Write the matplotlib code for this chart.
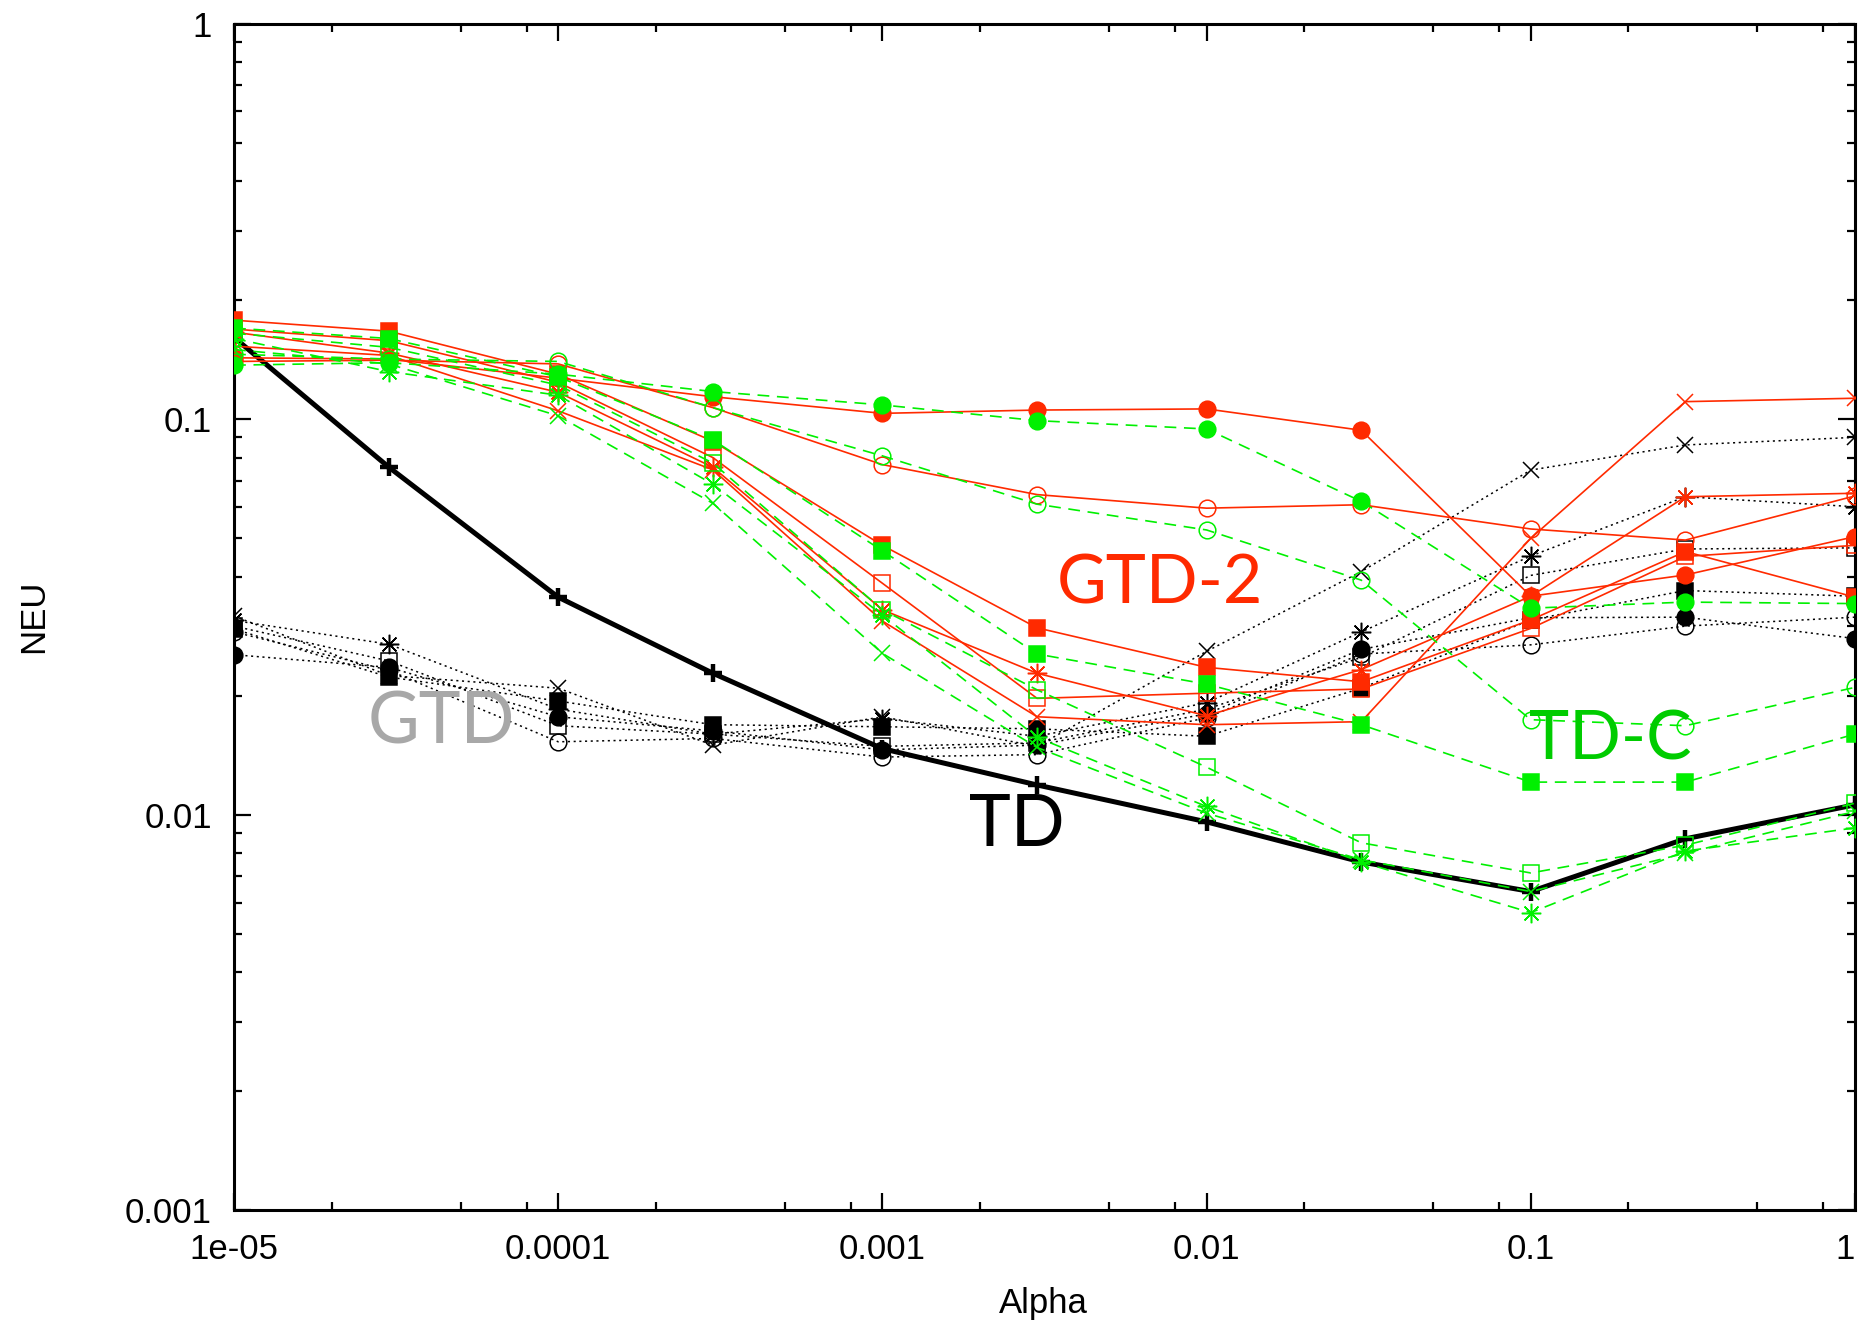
import matplotlib
matplotlib.use('Agg')
import matplotlib.pyplot as plt
from matplotlib.ticker import FixedLocator, FixedFormatter, NullFormatter, LogLocator

# step sizes on the x axis
alpha = [1e-5, 3e-5, 1e-4, 3e-4, 1e-3, 3e-3, 1e-2, 3e-2, 1e-1, 3e-1, 1.0]

# TD (thick black)
td = [0.161, 0.0757, 0.0355, 0.0228, 0.0147, 0.0119, 0.0096, 0.0076, 0.0064, 0.0087, 0.0106]

# GTD (black dotted)
gtd_x = [0.0318, 0.0225, 0.0209, 0.0150, 0.0177, 0.0149, 0.0259, 0.0412, 0.0744, 0.0861, 0.0900]
gtd_star = [0.0310, 0.0270, 0.0185, 0.0160, 0.0175, 0.0158, 0.0192, 0.0290, 0.0451, 0.0637, 0.0601]
gtd_osq = [0.0300, 0.0245, 0.0168, 0.0160, 0.0149, 0.0152, 0.0185, 0.0250, 0.0403, 0.0470, 0.0473]
gtd_fsq = [0.0295, 0.0223, 0.0194, 0.0169, 0.0167, 0.0165, 0.0158, 0.0209, 0.0311, 0.0369, 0.0357]
gtd_ocir = [0.0290, 0.0232, 0.0153, 0.0156, 0.0140, 0.0142, 0.0176, 0.0255, 0.0269, 0.0300, 0.0316]
gtd_fcir = [0.0254, 0.0236, 0.0177, 0.0163, 0.0146, 0.0150, 0.0180, 0.0262, 0.0315, 0.0316, 0.0279]

# GTD-2 (red solid)
gtd2_x = [0.153, 0.145, 0.105, 0.0745, 0.0309, 0.0177, 0.0169, 0.0172, 0.0500, 0.1108, 0.1130]
gtd2_star = [0.166, 0.147, 0.117, 0.0756, 0.0330, 0.0228, 0.0178, 0.0233, 0.0357, 0.0637, 0.0650]
gtd2_osq = [0.169, 0.158, 0.124, 0.0800, 0.0385, 0.0197, 0.0203, 0.0208, 0.0296, 0.0450, 0.0480]
gtd2_fsq = [0.178, 0.167, 0.130, 0.0880, 0.0480, 0.0297, 0.0236, 0.0217, 0.0311, 0.0463, 0.0355]
gtd2_ocir = [0.140, 0.141, 0.138, 0.107, 0.0768, 0.0645, 0.0596, 0.0608, 0.0528, 0.0495, 0.0640]
gtd2_fcir = [0.143, 0.142, 0.127, 0.114, 0.1035, 0.1055, 0.1062, 0.0938, 0.0357, 0.0404, 0.0505]

# TD-C (green dashed)
tdc_x = [0.150, 0.138, 0.102, 0.0613, 0.0256, 0.0148, 0.0101, 0.0077, 0.0064, 0.0080, 0.0102]
tdc_star = [0.160, 0.132, 0.115, 0.0685, 0.0320, 0.0157, 0.0105, 0.0076, 0.00566, 0.0081, 0.00927]
tdc_osq = [0.165, 0.152, 0.122, 0.0775, 0.0330, 0.0207, 0.0132, 0.0085, 0.00713, 0.00838, 0.0107]
tdc_fsq = [0.170, 0.160, 0.128, 0.0887, 0.0465, 0.0255, 0.0214, 0.0169, 0.0121, 0.0121, 0.0160]
tdc_ocir = [0.146, 0.142, 0.140, 0.107, 0.0808, 0.0610, 0.0525, 0.0392, 0.0174, 0.0168, 0.0210]
tdc_fcir = [0.137, 0.139, 0.130, 0.1175, 0.1087, 0.0992, 0.0945, 0.0620, 0.0333, 0.0345, 0.0342]

x_ticks = [1e-5, 1e-4, 1e-3, 1e-2, 1e-1, 1.0]
x_tick_labels = ['1e-05', '0.0001', '0.001', '0.01', '0.1', '1']
y_ticks = [1e-3, 1e-2, 1e-1, 1.0]
y_tick_labels = ['0.001', '0.01', '0.1', '1']

RED = '#ff2a00'
GREEN = '#00f000'
ASTER = (8, 2, 0)
MARKERS = [('x', False), (ASTER, False), ('s', False), ('s', True), ('o', False), ('o', True)]

plt.rcParams['lines.scale_dashes'] = False
tick_font = ['Liberation Sans', 'DejaVu Sans']
label_font = ['Lato', 'DejaVu Sans']

fig = plt.figure(figsize=(18.59, 13.29), dpi=100)
ax = fig.add_axes([0.1259, 0.0892, 0.8719, 0.8930])


def draw_family(series, color, ls, lw, z):
    for vals, (mk, filled) in zip(series, MARKERS):
        ax.plot(alpha, vals, color=color, linestyle=ls, linewidth=lw,
                marker=mk, markersize=12 if mk != ASTER else 14,
                markerfacecolor=color if filled else 'none',
                markeredgecolor=color, markeredgewidth=1.1, zorder=z)


ax.plot(alpha, td, color='black', linewidth=3.6, marker='+', markersize=13,
        markeredgewidth=3.2, zorder=2)
draw_family([gtd_x, gtd_star, gtd_osq, gtd_fsq, gtd_ocir, gtd_fcir],
            'black', (0, (1.5, 2.6)), 1.1, 3)
draw_family([gtd2_x, gtd2_star, gtd2_osq, gtd2_fsq, gtd2_ocir, gtd2_fcir],
            RED, '-', 1.2, 4)
draw_family([tdc_x, tdc_star, tdc_osq, tdc_fsq, tdc_ocir, tdc_fcir],
            GREEN, (0, (8.5, 5.5)), 1.2, 5)

ax.set_xscale('log')
ax.set_yscale('log')
ax.set_xlim(1e-5, 1.0)
ax.set_ylim(1e-3, 1.0)

ax.xaxis.set_major_locator(FixedLocator(x_ticks))
ax.xaxis.set_major_formatter(FixedFormatter(x_tick_labels))
ax.xaxis.set_minor_locator(LogLocator(base=10, subs=[2, 5, 8]))
ax.xaxis.set_minor_formatter(NullFormatter())
ax.yaxis.set_major_locator(FixedLocator(y_ticks))
ax.yaxis.set_major_formatter(FixedFormatter(y_tick_labels))
ax.yaxis.set_minor_locator(LogLocator(base=10, subs=range(2, 10)))
ax.yaxis.set_minor_formatter(NullFormatter())

ax.tick_params(which='both', direction='in', top=True, right=True, width=1.6)
ax.tick_params(which='major', length=12, pad=16, labelsize=25)
ax.tick_params(which='minor', length=6)
for lab in ax.get_xticklabels() + ax.get_yticklabels():
    lab.set_family(tick_font)
# last x label sits on the figure edge; keep it inside
ax.get_xticklabels()[-1].set_horizontalalignment('right')
for sp in ax.spines.values():
    sp.set_linewidth(2.2)

fig.text(0.561, 0.019, 'Alpha', ha='center', va='center', fontsize=25, family=tick_font)
fig.text(0.018, 0.536, 'NEU', ha='center', va='center', rotation=90, fontsize=25, family=tick_font)

ax.text(0.0072, 0.0383, 'GTD-2', color=RED, fontsize=49, ha='center', va='center',
        family=label_font, zorder=6)
ax.text(4.36e-5, 0.0171, 'GTD', color='#a8a8a8', fontsize=51, ha='center', va='center',
        family=label_font, zorder=6)
ax.text(0.0026, 0.0094, 'TD', color='black', fontsize=51, ha='center', va='center',
        family=label_font, zorder=6)
ax.text(0.176, 0.0154, 'TD-C', color='#00cc00', fontsize=49, ha='center', va='center',
        family=label_font, zorder=6)

fig.savefig('out.png', dpi=100)
